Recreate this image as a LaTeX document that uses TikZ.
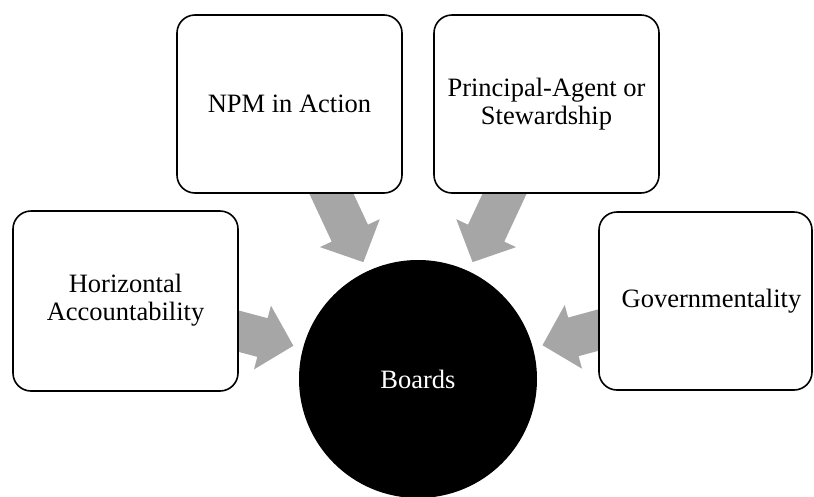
\documentclass[tikz,border=0pt]{standalone}
\usepackage{fontspec}
\setmainfont{Liberation Serif}
\usetikzlibrary{calc}
\definecolor{feedgray}{HTML}{A6A6A6}
\pgfdeclarelayer{background}
\pgfsetlayers{background,main}

% Block arrow from a source box towards the central circle
\newcommand\feedarrow[1]{%
  \coordinate (#1-tip)  at ($(board.center)!129pt!(#1.center)$);
  \coordinate (#1-neck) at ($(board.center)!161pt!(#1.center)$);
  \coordinate (#1-tail) at ($(board.center)!245pt!(#1.center)$);
  \begin{pgfonlayer}{background}
    \fill[feedgray]
      ($(#1-tail)!20pt!90:(#1-tip)$) --
      ($(#1-neck)!20pt!-90:(#1-tail)$) --
      ($(#1-neck)!33pt!-90:(#1-tail)$) --
      (#1-tip) --
      ($(#1-neck)!33pt!90:(#1-tail)$) --
      ($(#1-neck)!20pt!90:(#1-tail)$) --
      ($(#1-tail)!20pt!-90:(#1-tip)$) -- cycle;
  \end{pgfonlayer}}

\begin{document}
\begin{tikzpicture}[x=1pt,y=-1pt,
  card/.style={draw=black, line width=1.6pt, fill=white, rounded corners=18pt,
    minimum height=178pt, align=center, inner sep=0pt,
    font=\fontsize{26.5}{28}\selectfont},
  hub/.style={circle, fill=black, minimum size=238pt, inner sep=0pt,
    text=white, font=\fontsize{26.5}{28}\selectfont}]
  \useasboundingbox (0,0) rectangle (814,496);

  \node[hub] (board) at (418,379) {Boards};

  \node[card, minimum width=225pt, minimum height=180pt] (hz) at (125.5,301)
    {\raisebox{-4pt}{\begin{tabular}{@{}c@{}}Horizontal\\Accountability\end{tabular}}};
  \node[card, minimum width=225pt] (npm) at (289.5,104) {NPM in Action};
  \node[card, minimum width=225pt] (pa) at (546.5,104)
    {Principal-Agent or\\Stewardship};
  \node[card, minimum width=213pt] (gov) at (705.5,301)
    {\hspace*{12pt}Governmentality};

  \feedarrow{hz}
  \feedarrow{npm}
  \feedarrow{pa}
  \feedarrow{gov}
\end{tikzpicture}
\end{document}
